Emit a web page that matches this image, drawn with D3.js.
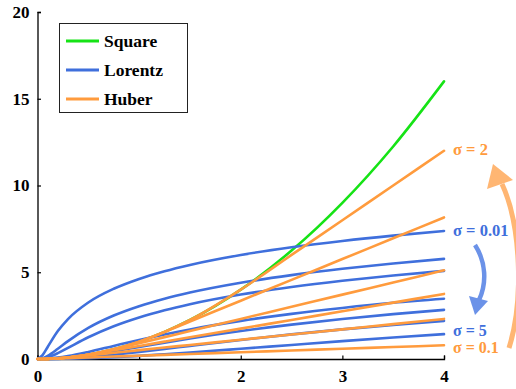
<!DOCTYPE html>
<html><head><meta charset="utf-8">
<script src="https://cdn.jsdelivr.net/npm/d3@7"></script>
<style>html,body{margin:0;padding:0;background:#fff;}svg{display:block;}
svg text{font-family:"Liberation Serif","Times New Roman",Times,"DejaVu Serif",serif !important;font-weight:bold;}</style>
</head><body>
<svg id="c" width="516" height="389"></svg>
<script>
// x sample positions
const xs = [0, 0.05, 0.1, 0.2, 0.3, 0.5, 0.75, 1, 1.25, 1.5, 2, 2.5, 3, 3.5, 4];
// Square loss
const square = [0, 0.0025, 0.01, 0.04, 0.09, 0.25, 0.5625, 1, 1.5625, 2.25, 4, 6.25, 9, 12.25, 16];
// Lorentz curves
const lorentz001 = [0, 0.223, 0.693, 1.609, 2.303, 3.258, 4.047, 4.615, 5.058, 5.421, 5.994, 6.439, 6.804, 7.112, 7.378];
const lorentz005 = [0, 0.049, 0.182, 0.588, 1.030, 1.792, 2.506, 3.045, 3.474, 3.829, 4.394, 4.836, 5.198, 5.505, 5.771];
const lorentz01  = [0, 0.025, 0.095, 0.336, 0.642, 1.253, 1.891, 2.398, 2.811, 3.157, 3.714, 4.151, 4.511, 4.816, 5.081];
const lorentz05  = [0, 0.005, 0.020, 0.077, 0.166, 0.405, 0.754, 1.099, 1.417, 1.705, 2.197, 2.603, 2.944, 3.239, 3.470];
const lorentz1   = [0, 0.0025, 0.010, 0.039, 0.086, 0.223, 0.446, 0.693, 0.941, 1.179, 1.609, 1.981, 2.303, 2.584, 2.833];
const lorentz2   = [0, 0.0013, 0.005, 0.020, 0.044, 0.118, 0.248, 0.405, 0.577, 0.754, 1.099, 1.417, 1.705, 1.964, 2.197];
const lorentz5   = [0, 0.0005, 0.002, 0.008, 0.018, 0.049, 0.107, 0.182, 0.272, 0.372, 0.588, 0.811, 1.030, 1.238, 1.435];
// Huber curves
const huber2   = [0, 0.0025, 0.01, 0.04, 0.09, 0.25, 0.5625, 1, 1.5625, 2.25, 4, 6, 8, 10, 12];
const huber12  = [0, 0.0025, 0.01, 0.04, 0.09, 0.25, 0.5625, 1, 1.56, 2.16, 3.36, 4.56, 5.76, 6.96, 8.16];
const huber07  = [0, 0.0025, 0.01, 0.04, 0.09, 0.25, 0.56, 0.91, 1.26, 1.61, 2.31, 3.01, 3.71, 4.41, 5.11];
const huber05  = [0, 0.0025, 0.01, 0.04, 0.09, 0.25, 0.5, 0.75, 1.0, 1.25, 1.75, 2.25, 2.75, 3.25, 3.75];
const huber03  = [0, 0.0025, 0.01, 0.04, 0.09, 0.21, 0.36, 0.51, 0.66, 0.81, 1.11, 1.41, 1.71, 2.01, 2.31];
const huber01  = [0, 0.0025, 0.01, 0.03, 0.05, 0.09, 0.14, 0.19, 0.24, 0.29, 0.39, 0.49, 0.59, 0.69, 0.79];

const xTicks = [0, 1, 2, 3, 4];
const yTicks = [0, 5, 10, 15, 20];
const legendLabels = ["Square", "Lorentz", "Huber"];
const sigmaLabels = ["σ = 2", "σ = 0.01", "σ = 5", "σ = 0.1"];

const lorentzSeries = [lorentz001, lorentz005, lorentz01, lorentz05, lorentz1, lorentz2, lorentz5];
const huberSeries = [huber2, huber12, huber07, huber05, huber03, huber01];

const GREEN = "#16e316", BLUE = "#3f6fdc", ORANGE = "#ff9b3d";

const svg = d3.select("#c");
const x = d3.scaleLinear().domain([0, 4]).range([37.5, 444]);
const y = d3.scaleLinear().domain([0, 20]).range([359, 12]);

const line = d3.line().x((d, i) => x(xs[i])).y(d => y(d)).curve(d3.curveMonotoneX);

// axes
const xAxis = svg.append("g").attr("transform", `translate(0,${y(0)})`)
  .call(d3.axisBottom(x).tickValues(xTicks).tickSize(-3.5).tickPadding(11).tickFormat(d3.format("d")));
const yAxis = svg.append("g").attr("transform", `translate(${x(0)},0)`)
  .call(d3.axisLeft(y).tickValues(yTicks).tickSize(-3.5).tickPadding(8).tickFormat(d3.format("d")));
[xAxis, yAxis].forEach(a => {
  a.select(".domain").attr("stroke", "#000").attr("stroke-width", 1.3);
  a.selectAll(".tick line").attr("stroke", "#000").attr("stroke-width", 1.2);
  a.selectAll("text").attr("font-size", 17).attr("fill", "#000");
});

// curves
const plot = svg.append("g").attr("fill", "none").attr("stroke-width", 2.6).attr("stroke-linecap", "round");
plot.append("path").attr("d", line(square)).attr("stroke", GREEN);
lorentzSeries.forEach(s => plot.append("path").attr("d", line(s)).attr("stroke", BLUE));
huberSeries.forEach(s => plot.append("path").attr("d", line(s)).attr("stroke", ORANGE));

// legend
const lg = svg.append("g");
lg.append("rect").attr("x", 59.5).attr("y", 23.5).attr("width", 128).attr("height", 89)
  .attr("fill", "#fff").attr("stroke", "#222").attr("stroke-width", 1);
[GREEN, BLUE, ORANGE].forEach((c, i) => {
  const yy = 41 + i * 29;
  lg.append("line").attr("x1", 66).attr("x2", 99).attr("y1", yy).attr("y2", yy)
    .attr("stroke", c).attr("stroke-width", 2.8);
  lg.append("text").attr("x", 104).attr("y", yy + 5.5).text(legendLabels[i])
    .attr("font-size", 17.5).attr("fill", "#000");
});

// sigma labels
const labs = [
  {v: huber2[huber2.length - 1], c: ORANGE, dy: 4, fs: 16.5},
  {v: lorentz001[lorentz001.length - 1], c: BLUE, dy: 5, fs: 16.5},
  {v: lorentz5[lorentz5.length - 1], c: BLUE, dy: 2, fs: 16},
  {v: huber01[huber01.length - 1], c: ORANGE, dy: 8, fs: 16}
];
labs.forEach((l, i) => {
  svg.append("text").attr("x", x(4) + 9).attr("y", y(l.v) + l.dy).text(sigmaLabels[i])
    .attr("font-size", l.fs).attr("fill", l.c);
});

// arrows
svg.append("path").attr("d", "M475,245 C486,262 487,283 479,300")
  .attr("fill", "none").attr("stroke", "#6b92e8").attr("stroke-width", 4.5);
svg.append("path").attr("d", "M469,296 L488,301 L475,315 Z").attr("fill", "#6b92e8");

svg.append("path").attr("d", "M509,348 C524,300 521,225 502,184")
  .attr("fill", "none").attr("stroke", "#ffb673").attr("stroke-width", 5);
svg.append("path").attr("d", "M493,164 L487,189 L513,180 Z").attr("fill", "#ffb673");
</script>
</body></html>
